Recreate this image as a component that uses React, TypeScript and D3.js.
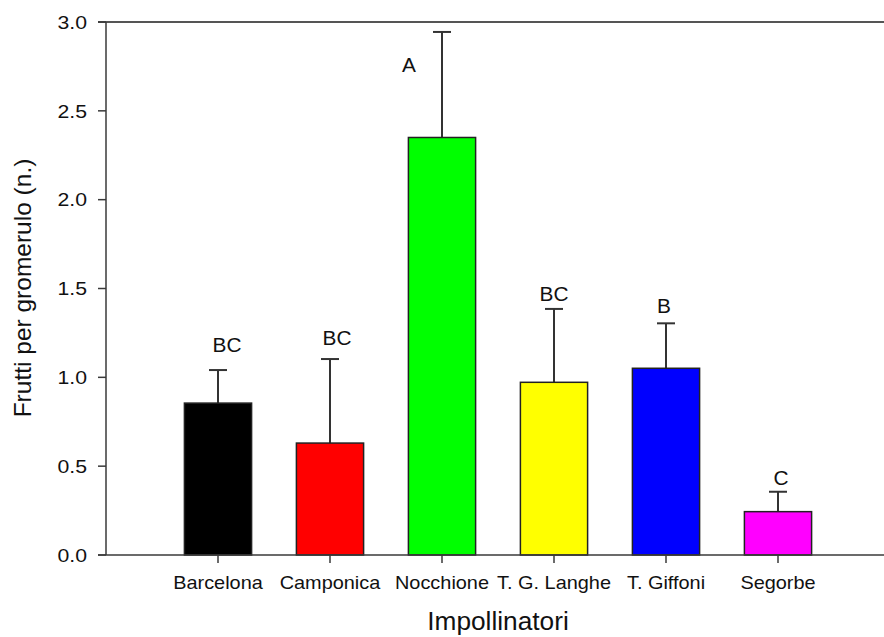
import React from "react";
import * as d3 from "d3";

// Fruits per glomerule by pollinator cultivar (mean and upper error)
const categories = ["Barcelona", "Camponica", "Nocchione", "T. G. Langhe", "T. Giffoni", "Segorbe"];
const means = [0.855, 0.63, 2.35, 0.972, 1.051, 0.244];
const errTops = [1.041, 1.103, 2.944, 1.385, 1.304, 0.356];
const colors = ["#000000", "#ff0000", "#00ff00", "#ffff00", "#0000ff", "#ff00ff"];
const letters = ["BC", "BC", "A", "BC", "B", "C"];
// letter annotation anchors: horizontal shift (px) and baseline height in data units
const letterDx = [9, 7, -33, 0, -2, 3];
const letterY = [1.143, 1.182, 2.719, 1.431, 1.364, 0.394];
const yTicks = [0, 0.5, 1.0, 1.5, 2.0, 2.5, 3.0];

const W = 884;
const H = 637;
const left = 106;
const right = 890;
const top = 22;
const bottom = 555;
const font = "'Liberation Sans', Arial, sans-serif";

// text drawn with a slight horizontal stretch
function WideText(props: {
  x: number;
  y: number;
  sx?: number;
  size: number;
  anchor?: string;
  dy?: string;
  children: React.ReactNode;
}) {
  const { x, y, sx = 1.07, size, anchor = "middle", dy, children } = props;
  return (
    <text
      transform={`translate(${x},${y}) scale(${sx},1)`}
      textAnchor={anchor}
      dy={dy}
      fontSize={size}
      fill="#111"
    >
      {children}
    </text>
  );
}

export default function App() {
  const x = d3
    .scaleBand<string>()
    .domain(categories)
    .range([left, right])
    .paddingInner(0.4)
    .paddingOuter(0.7);
  const y = d3.scaleLinear().domain([0, 3]).range([bottom, top]);
  const bw = x.bandwidth();
  const axisColor = "#3a3a3a";

  return (
    <svg
      width={W}
      height={H}
      style={{ position: "absolute", left: 0, top: 0, background: "#fff" }}
      fontFamily={font}
    >
      {/* bars */}
      {categories.map((c, i) => {
        const x0 = x(c)!;
        const cx = x0 + bw / 2;
        return (
          <g key={c}>
            <line x1={cx} x2={cx} y1={y(means[i])} y2={y(errTops[i])} stroke="#333" strokeWidth={2} />
            <line x1={cx - 9} x2={cx + 9} y1={y(errTops[i])} y2={y(errTops[i])} stroke="#333" strokeWidth={2} />
            <rect
              x={x0}
              y={y(means[i])}
              width={bw}
              height={bottom - y(means[i])}
              fill={colors[i]}
              stroke="#222"
              strokeWidth={1.5}
            />
            <WideText x={cx + letterDx[i]} y={y(letterY[i])} size={19.5}>
              {letters[i]}
            </WideText>
          </g>
        );
      })}

      {/* frame: top line, left axis, bottom axis */}
      <line x1={left - 8} x2={right} y1={top} y2={top} stroke="#555" strokeWidth={2} />
      <line x1={left} x2={left} y1={top} y2={bottom} stroke={axisColor} strokeWidth={1.5} />
      <line x1={left - 8} x2={right} y1={bottom} y2={bottom} stroke={axisColor} strokeWidth={1.5} />

      {/* y ticks */}
      {yTicks.map((t) => (
        <g key={t}>
          <line x1={left - 8} x2={left} y1={y(t)} y2={y(t)} stroke={axisColor} strokeWidth={1.5} />
          <WideText x={left - 19} y={y(t)} dy="0.36em" anchor="end" size={18.8} sx={1.13}>
            {t.toFixed(1)}
          </WideText>
        </g>
      ))}

      {/* x ticks and category labels */}
      {categories.map((c) => {
        const cx = x(c)! + bw / 2;
        return (
          <g key={c}>
            <line x1={cx} x2={cx} y1={bottom} y2={bottom + 8} stroke={axisColor} strokeWidth={1.5} />
            <WideText x={cx} y={589} size={18.6}>
              {c}
            </WideText>
          </g>
        );
      })}

      {/* axis titles */}
      <WideText x={498} y={630} size={25.5} sx={1.03}>
        Impollinatori
      </WideText>
      <text
        transform={`translate(31, 288) rotate(-90)`}
        textAnchor="middle"
        fontSize={24.5}
        fill="#111"
      >
        Frutti per gromerulo (n.)
      </text>
    </svg>
  );
}
